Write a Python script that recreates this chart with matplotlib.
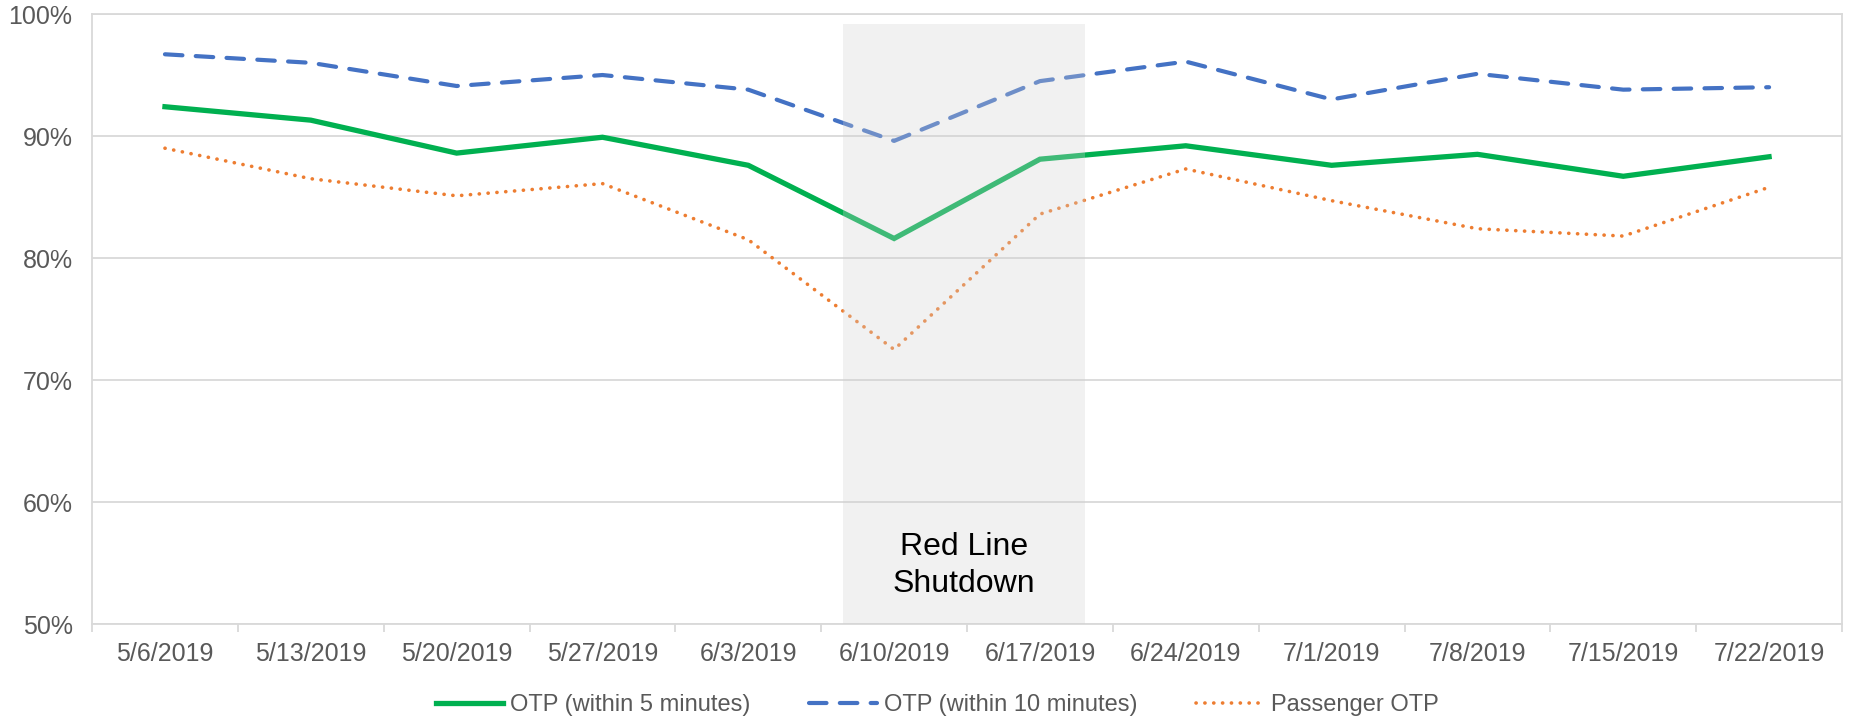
import numpy as np
import matplotlib
matplotlib.use('Agg')
import matplotlib.pyplot as plt

plt.rcParams['font.family'] = ['Liberation Sans', 'DejaVu Sans']

# Data (weekly on-time performance, %)
weeks = ['5/6/2019', '5/13/2019', '5/20/2019', '5/27/2019', '6/3/2019', '6/10/2019',
         '6/17/2019', '6/24/2019', '7/1/2019', '7/8/2019', '7/15/2019', '7/22/2019']
otp_5min = [92.4, 91.3, 88.6, 89.9, 87.6, 81.6, 88.1, 89.2, 87.6, 88.5, 86.7, 88.3]
otp_10min = [96.7, 96.0, 94.1, 95.0, 93.8, 89.6, 94.5, 96.1, 93.0, 95.1, 93.8, 94.0]
passenger_otp = [89.0, 86.5, 85.1, 86.1, 81.5, 72.5, 83.6, 87.3, 84.7, 82.4, 81.8, 85.8]

shutdown_start = 4.65
shutdown_end = 6.31
shutdown_top = 99.2


def main():
    fig = plt.figure(figsize=(18.52, 7.19), dpi=100)
    ax = fig.add_axes([0.0497, 0.1321, 0.9449, 0.8484])

    x = np.arange(len(weeks))
    grid_c = '#d9d9d9'
    txt_c = '#595959'

    ax.plot(x, otp_5min, color='#00b050', lw=3.8, solid_joinstyle='miter',
            label='OTP (within 5 minutes)', zorder=3)
    ax.plot(x, otp_10min, color='#4472c4', lw=3.0, linestyle=(0, (4.2, 3.2)),
            dash_capstyle='round', label='OTP (within 10 minutes)', zorder=3)
    ax.plot(x, passenger_otp, color='#ed7d31', lw=2.6, linestyle=(0, (0.05, 2.4)),
            dash_capstyle='round', label='Passenger OTP', zorder=3)

    # shaded shutdown box sits over the lines
    ax.fill_between([shutdown_start, shutdown_end], 50, shutdown_top,
                    color='#d2d2d2', alpha=0.3, lw=0, zorder=4)
    ax.text((shutdown_start + shutdown_end) / 2, 54.8, 'Red Line\nShutdown',
            ha='center', va='center', fontsize=23, color='black',
            linespacing=1.32, zorder=5)

    ax.set_xlim(-0.5, len(weeks) - 0.5)
    ax.set_ylim(50, 100)
    ax.set_yticks(np.arange(50, 101, 10))
    ax.set_yticklabels(['{}%'.format(v) for v in range(50, 101, 10)])
    ax.set_xticks(x)
    ax.set_xticklabels(weeks)
    ax.set_xticks(np.arange(-0.5, len(weeks), 1), minor=True)

    ax.grid(axis='y', color=grid_c, lw=1.3, zorder=0)
    ax.set_axisbelow(True)
    for s in ax.spines.values():
        s.set_color(grid_c)
        s.set_linewidth(1.3)

    ax.tick_params(axis='y', length=0, pad=14, labelsize=18, labelcolor=txt_c)
    ax.tick_params(axis='x', which='major', length=0, pad=13, labelsize=18,
                   labelcolor=txt_c)
    ax.tick_params(axis='x', which='minor', length=6, width=1.3, color=grid_c)

    fig.legend(loc='center', bbox_to_anchor=(0.506, 0.019), ncol=3, frameon=False,
               fontsize=17, handlelength=2.85, handletextpad=0.3,
               columnspacing=2.5, labelcolor=txt_c)

    fig.savefig('out.png', dpi=100)


if __name__ == "__main__":
    main()
